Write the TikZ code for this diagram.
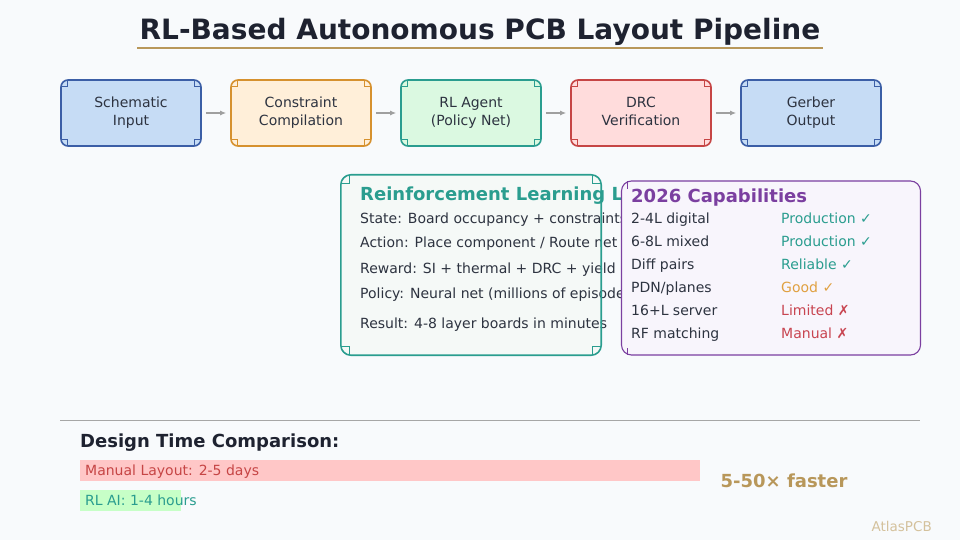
\documentclass[tikz,border=0pt]{standalone}
\usepackage{fontspec}
\setmainfont{DejaVu Sans}
\usetikzlibrary{arrows.meta,positioning}
\definecolor{paper}{HTML}{F8FAFC}
\definecolor{ink}{HTML}{1E2230}
\definecolor{body}{HTML}{2D3340}
\definecolor{gold}{HTML}{B8975A}
\definecolor{teal}{HTML}{2A9D8F}
\definecolor{blueB}{HTML}{3B5EA6}
\definecolor{blueF}{HTML}{C6DCF5}
\definecolor{orangeB}{HTML}{D6912E}
\definecolor{orangeF}{HTML}{FFEFD9}
\definecolor{greenF}{HTML}{DBF9E1}
\definecolor{redB}{HTML}{C64545}
\definecolor{redF}{HTML}{FFDCDC}
\definecolor{purple}{HTML}{7B3FA0}
\definecolor{capF}{HTML}{F8F5FC}
\definecolor{loopF}{HTML}{F5F9F7}
\definecolor{amber}{HTML}{E0A040}
\definecolor{crimson}{HTML}{C84450}
\newcommand{\fs}[2]{\fontsize{#1}{#2}\selectfont}

\begin{document}
\begin{tikzpicture}[x=1pt,y=-1pt,text=body,>={Latex[length=6pt,width=5pt]},
  stage/.style args={#1/#2}{draw=#1,fill=#2,line width=1.6pt,
    rounded corners=7pt,minimum width=140pt,minimum height=66pt,
    align=center,font=\fs{14}{18},text depth=3.6pt},
  flow/.style={->,gray!75,line width=1.5pt,shorten <=4pt,shorten >=4pt},
  row/.style={anchor=base west,inner sep=0pt,font=\fs{14}{17}}]
  \fill[paper] (0,0) rectangle (960,540);
  \node[font=\bfseries\fs{28}{32},text=ink,inner sep=2pt] (title) at (480,32)
    {RL-Based Autonomous PCB Layout Pipeline};
  \draw[gold,line width=2pt] (title.south west) -- (title.south east);

  % pipeline
  \node[stage=blueB/blueF] (sch) at (131,113) {Schematic\\Input};
  \node[stage=orangeB/orangeF,right=28.4pt of sch] (con) {Constraint\\Compilation};
  \node[stage=teal/greenF,right=28.4pt of con] (agt) {RL Agent\\(Policy Net)};
  \node[stage=redB/redF,right=28.4pt of agt] (drc) {DRC\\Verification};
  \node[stage=blueB/blueF,right=28.4pt of drc] (gbr) {Gerber\\Output};
  \foreach \a/\b in {sch/con,con/agt,agt/drc,drc/gbr}
    \draw[flow] (\a) -- (\b);
  \foreach \n/\c in {sch/blueB,con/orangeB,agt/teal,drc/redB,gbr/blueB}{
    \draw[\c,line width=.9pt]
      ([shift={(1,7)}]\n.north west) -| ([shift={(7,1)}]\n.north west)
      ([shift={(-1,7)}]\n.north east) -| ([shift={(-7,1)}]\n.north east)
      ([shift={(1,-7)}]\n.south west) -| ([shift={(7,-1)}]\n.south west)
      ([shift={(-1,-7)}]\n.south east) -| ([shift={(-7,-1)}]\n.south east);
  }

  % RL loop panel
  \node[fill=loopF,rounded corners=10pt,minimum width=260pt,
        minimum height=180pt] (loop) at (471,265) {};
  \node[row,font=\bfseries\fs{18}{21},text=teal] (looptitle) at (360,200.5)
    {Reinforcement Learning Loop};
  \foreach \t/\y [count=\i] in {{State: Board occupancy + constraints}/223,
      {Action: Place component / Route net}/247.5,
      {Reward: SI + thermal + DRC + yield}/273,
      {Policy: Neural net (millions of episodes)}/298,
      {Result: 4-8 layer boards in minutes}/328}
    \node[row] (rl\i) at (360,\y) {\t};
  \draw[teal,line width=1.6pt,rounded corners=10pt]
    (loop.south west) rectangle (loop.north east);
  \draw[teal,line width=.9pt]
    ([shift={(1,9)}]loop.north west) -| ([shift={(9,1)}]loop.north west)
    ([shift={(-1,9)}]loop.north east) -| ([shift={(-9,1)}]loop.north east)
    ([shift={(1,-9)}]loop.south west) -| ([shift={(9,-1)}]loop.south west)
    ([shift={(-1,-9)}]loop.south east) -| ([shift={(-9,-1)}]loop.south east);

  % capabilities panel
  \node[fill=capF,draw=purple,line width=1.1pt,rounded corners=10pt,
        minimum width=299pt,minimum height=174pt] (cap) at (771,268) {};
  \draw[purple,line width=.9pt]
    ([shift={(6,1)}]cap.north west) -- ([shift={(6,9)}]cap.north west)
    ([shift={(6,-1)}]cap.south west) -- ([shift={(6,-8)}]cap.south west);
  \node[row,font=\bfseries\fs{18}{21},text=purple] (captitle) at (631,202.5)
    {2026 Capabilities};
  \foreach \l/\s/\c/\y [count=\i] in {2-4L digital/Production ✓/teal/223,
      6-8L mixed/Production ✓/teal/246,
      Diff pairs/Reliable ✓/teal/269,
      PDN{/}planes/Good ✓/amber/292,
      16+L server/Limited ✗/crimson/315,
      RF matching/Manual ✗/crimson/338}{
    \node[row] (feat\i) at (631,\y) {\l};
    \node[row,text=\c] (stat\i) at (781,\y) {\s};
  }

  % comparison
  \coordinate (ruleL) at (60,420);
  \coordinate (ruleR) at (920,420);
  \draw[gray!70,line width=1pt] (ruleL) -- (ruleR);
  \node[row,font=\bfseries\fs{18}{21},text=ink] (cmp) at (80,447.5)
    {Design Time Comparison:};
  \node[fill=red!22,anchor=north west,inner sep=0pt,minimum width=620pt,
        minimum height=21pt] (manbar) at (80,460) {};
  \node[row,text=redB] (mantext) at (85,475.5) {Manual Layout: 2-5 days};
  \node[fill=green!22,anchor=north west,inner sep=0pt,minimum width=101pt,
        minimum height=21pt] (rlbar) at (80,490) {};
  \node[row,text=teal] (rltext) at (85,505.5) {RL AI: 1-4 hours};
  \node[font=\bfseries\fs{18}{21},text=gold] (speed) at (784,481)
    {5-50× faster};
  \node[anchor=east,inner sep=0pt,font=\fs{13.5}{16},text=gold!60]
    (brand) at (932,526) {AtlasPCB};
\end{tikzpicture}
\end{document}
